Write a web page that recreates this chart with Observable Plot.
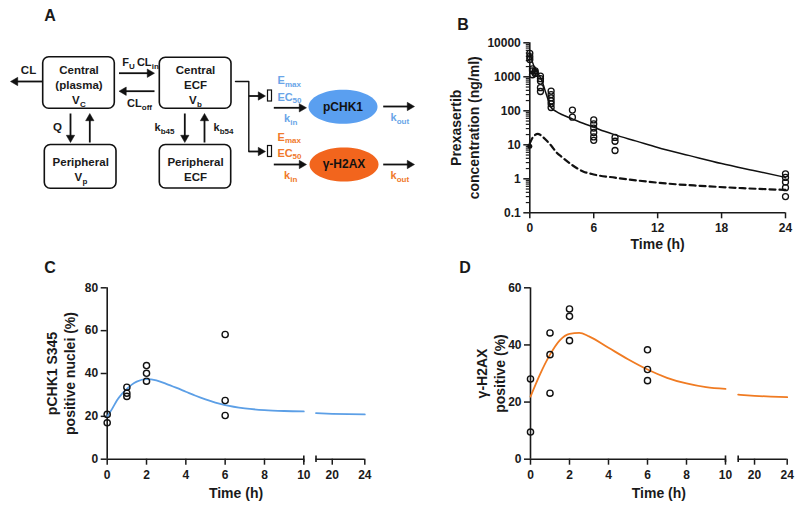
<!DOCTYPE html>
<html><head><meta charset="utf-8">
<script src="https://cdn.jsdelivr.net/npm/d3@7"></script>
<script src="https://cdn.jsdelivr.net/npm/@observablehq/plot@0.6"></script>
<style>
body{margin:0;background:#fff}
#wrap{position:relative;width:800px;height:512px;overflow:hidden;background:#fff;font-family:'Liberation Sans',Arial,sans-serif;color:#1a1a1a}
#wrap svg{position:absolute}
.lbl{position:absolute;font-weight:bold;font-size:16px;line-height:1;transform:translate(-50%,-50%)}
</style></head>
<body><div id="wrap"></div>
<script>
// ---------- Panel B data (Prexasertib PK) ----------
const pkObsTime = [0,0,0, 0.25,0.25,0.25, 0.5,0.5,0.5, 1,1,1,1,1, 2,2,2,2,2,2, 4,4, 6,6,6,6,6,6, 8,8,8, 24,24,24,24,24];
const pkObsConc = [4900,3900,3200, 1700,1500,1150, 1500,1350,1250, 1050,880,750,480,370, 380,300,240,195,160,125, 105,65, 54,41,31,23,17,13.5, 16.5,12.7,6.8, 1.4,1.1,0.8,0.55,0.3];
const plasmaModelTime = [0,0.25,0.5,0.75,1,1.25,1.5,1.75,2,2.5,3,4,5,6,7,8,10,12,15,18,21,24];
const plasmaModelConc = [5000,2700,1700,1250,950,600,340,200,125,95,78,58,43,33,25,19.6,12.8,8.3,4.8,2.8,1.75,1.1];
const brainModelTime = [0,0.25,0.5,0.75,1,1.5,2,2.5,3,4,5,6,8,10,13,16,20,24];
const brainModelConc = [11,16,19.5,21,19.5,14,9.5,6,4.4,2.5,1.65,1.34,1.08,0.9,0.72,0.62,0.53,0.47];
const brainMarkTime = [0];
const brainMarkConc = [9];
const yTicksB = [0.1,1,10,100,1000,10000];
const yTickLabelsB = ["0.1","1","10","100","1000","10000"];
const xTicksB = [0,6,12,18,24];

// ---------- Panel C data (pCHK1) ----------
const chkObsTime = [0,0, 1,1,1, 2,2,2, 6,6,6];
const chkObsVal  = [20.9,17.0, 33.6,30.8,29.3, 43.7,40.1,36.4, 58.2,27.4,20.4];
const chkModelTime = [0,0.25,0.5,0.75,1,1.25,1.5,2,2.5,3,3.5,4,4.5,5,5.5,6,7,8,9,10, 18,20,22,24];
const chkModelVal  = [19.9,23.5,27.5,30.5,32.8,34.8,36.2,37.4,36.8,35.2,33.4,31.5,29.6,27.9,26.4,25.2,23.7,22.9,22.5,22.3, 21.5,21.2,21.0,20.9];
const chkModelSeg  = ["a","a","a","a","a","a","a","a","a","a","a","a","a","a","a","a","a","a","a","a", "b","b","b","b"];
const yTicksC = [0,20,40,60,80];

// ---------- Panel D data (gamma-H2AX) ----------
const h2axObsTime = [0,0, 1,1,1, 2,2,2, 6,6,6];
const h2axObsVal  = [28.1,9.5, 44.2,36.6,23.1, 52.6,50.0,41.5, 38.3,31.4,27.5];
const h2axModelTime = [0,0.5,1,1.5,2,2.5,3,4,5,6,7,8,9,10, 18,20,22,24];
const h2axModelVal  = [21.9,29.9,36.6,41.6,43.9,44.2,43.0,39.0,35.0,31.4,28.5,26.5,25.2,24.6, 22.6,22.2,21.9,21.7];
const h2axModelSeg  = ["a","a","a","a","a","a","a","a","a","a","a","a","a","a", "b","b","b","b"];
const yTicksD = [0,20,40,60];
const xTicksCD = [0,2,4,6,8,10,20,24];

const BLUE_TXT = "#6aa5e8", BLUE_FILL = "#5a9ff0", BLUE_LINE = "#5c9fe6";
const ORG_TXT = "#f07a2c", ORG_FILL = "#f2651d", ORG_LINE = "#f07b22";
const FONT = "'Liberation Sans', Arial, sans-serif";
const baseStyle = {fontFamily: FONT, fontSize: "12px", fontWeight: "bold", background: "transparent", overflow: "visible", color: "#1a1a1a"};

const wrap = document.getElementById("wrap");
function place(el, left, top) { el.style.left = left + "px"; el.style.top = top + "px"; wrap.appendChild(el); }

// ---------- Panel A : model diagram ----------
const boxes = [
  {x1:42.7, x2:114.3, y1:56.7, y2:108.3},
  {x1:159.3, x2:231, y1:57.3, y2:108.3},
  {x1:44.3, x2:116, y1:144.5, y2:188.3},
  {x1:159.3, x2:230.7, y1:144.5, y2:188}
];
const smallRects = [{x1:267.5,x2:271.5,y1:90,y2:101},{x1:267.5,x2:271.5,y1:145.5,y2:156.5}];
const arrows = [
  {x1:42.7,y1:81,x2:10,y2:81},
  {x1:118.5,y1:72.7,x2:154,y2:72.7},
  {x1:154,y1:90.7,x2:118.5,y2:90.7},
  {x1:70,y1:113,x2:70,y2:142},
  {x1:89.3,y1:142,x2:89.3,y2:113},
  {x1:184.3,y1:113,x2:184.3,y2:142},
  {x1:204,y1:142,x2:204,y2:113},
  {x1:248.3,y1:95.5,x2:265,y2:95.5},
  {x1:248.3,y1:151,x2:265,y2:151},
  {x1:273.3,y1:107.3,x2:306,y2:107.3},
  {x1:273.3,y1:164,x2:306,y2:164},
  {x1:382.7,y1:106,x2:414,y2:106},
  {x1:382.7,y1:164,x2:414,y2:164}
];
const connector = [{x:235,y:81},{x:248.3,y:81},{x:248.3,y:151}];
const ellipses = [{x:342.5,y:106.3,fill:BLUE_FILL,label:"pCHK1"},{x:343.5,y:164,fill:ORG_FILL,label:"γ-H2AX"}];
const centeredText = [
  [78.5,70,"Central"],[78.5,85,"(plasma)"],
  [195,70,"Central"],[195,85,"ECF"],
  [80.2,162,"Peripheral"],
  [195,162,"Peripheral"],[195,177,"ECF"],
  [28,70,"CL"],[57,127,"Q"]
].map(([x,y,t]) => ({x,y,t}));
const runText = [
  // [x, y, text, size, color]  (left-anchored pieces, subscripts smaller and lower)
  [71.5,100,"V",11.5,"#1a1a1a"],[79.5,103.5,"C",8,"#1a1a1a"],
  [188.5,100,"V",11.5,"#1a1a1a"],[196.5,103.5,"b",8,"#1a1a1a"],
  [74,177,"V",11.5,"#1a1a1a"],[82,180.5,"p",8,"#1a1a1a"],
  [121.7,62,"F",11,"#1a1a1a"],[128.6,65.5,"U",8,"#1a1a1a"],
  [136.4,62,"CL",11,"#1a1a1a"],[151.3,65.5,"in",8,"#1a1a1a"],
  [126.5,103,"CL",11,"#1a1a1a"],[141.3,106.5,"off",8,"#1a1a1a"],
  [154,127,"k",11,"#1a1a1a"],[160.2,130.5,"b45",8,"#1a1a1a"],
  [213,127,"k",11,"#1a1a1a"],[219.2,130.5,"b54",8,"#1a1a1a"],
  [277,80,"E",11,BLUE_TXT],[284.4,83.5,"max",8,BLUE_TXT],
  [277,96.5,"EC",11,BLUE_TXT],[292,100,"50",8,BLUE_TXT],
  [283.5,118,"k",11,BLUE_TXT],[289.7,121.5,"in",8,BLUE_TXT],
  [390,117,"k",11,BLUE_TXT],[396.2,120.5,"out",8,BLUE_TXT],
  [277,136.5,"E",11,ORG_TXT],[284.4,140,"max",8,ORG_TXT],
  [277,152.5,"EC",11,ORG_TXT],[292,156,"50",8,ORG_TXT],
  [283.5,175,"k",11,ORG_TXT],[289.7,178.5,"in",8,ORG_TXT],
  [390,175,"k",11,ORG_TXT],[396.2,178.5,"out",8,ORG_TXT]
].map(([x,y,t,s,c]) => ({x,y,t,s,c}));

// arrow geometry: head drawn as filled triangle symbol
const HEAD_R = 3.1;
const headHalf = Math.sqrt(Math.PI*HEAD_R*HEAD_R/(Math.sqrt(3)*3));
const arrowRows = arrows.map(a => {
  const dx = a.x2-a.x1, dy = a.y2-a.y1, L = Math.hypot(dx,dy), ux = dx/L, uy = dy/L;
  const hx = a.x2 - ux*2*headHalf, hy = a.y2 - uy*2*headHalf;
  return {...a, hx, hy, rot: Math.atan2(dy,dx)*180/Math.PI + 90};
});
const ellipseSymbol = {draw(ctx, size) {
  const r = Math.sqrt(size/Math.PI), rx = r*2.03, ry = r, k = 0.5523;
  ctx.moveTo(rx,0);
  ctx.bezierCurveTo(rx,ry*k,rx*k,ry,0,ry);
  ctx.bezierCurveTo(-rx*k,ry,-rx,ry*k,-rx,0);
  ctx.bezierCurveTo(-rx,-ry*k,-rx*k,-ry,0,-ry);
  ctx.bezierCurveTo(rx*k,-ry,rx,-ry*k,rx,0);
  ctx.closePath();
}};

const pA = Plot.plot({
  width: 420, height: 250, margin: 0,
  x: {domain:[0,420], range:[0,420], axis:null},
  y: {domain:[0,250], range:[0,250], axis:null},
  style: baseStyle,
  marks: [
    Plot.line(connector, {x:"x", y:"y", stroke:"#111", strokeWidth:1.4}),
    Plot.link(arrowRows, {x1:"x1", y1:"y1", x2:"hx", y2:"hy", stroke:"#111", strokeWidth:1.8}),
    Plot.dot(arrowRows, {x:"hx", y:"hy", r:HEAD_R, symbol:"triangle", rotate:"rot", fill:"#111", stroke:"#111", strokeWidth:0.5}),
    Plot.rect(boxes, {x1:"x1", x2:"x2", y1:"y1", y2:"y2", rx:6, fill:"white", stroke:"#111", strokeWidth:1.6}),
    Plot.rect(smallRects, {x1:"x1", x2:"x2", y1:"y1", y2:"y2", fill:"white", stroke:"#111", strokeWidth:1.2}),
    Plot.dot(ellipses, {x:"x", y:"y", r:17, symbol:ellipseSymbol, fill:"fill", stroke:null}),
    Plot.text(ellipses, {x:"x", y:"y", text:"label", fontSize:12, fill:"#111", fontWeight:"bold"}),
    Plot.text(centeredText, {x:"x", y:"y", text:"t", fontSize:11.5, fill:"#1a1a1a", textAnchor:"middle", fontWeight:"bold"}),
    Plot.text(runText, {x:"x", y:"y", text:"t", fontSize:"s", fill:"c", textAnchor:"start", fontWeight:"bold"})
  ]
});
place(pA, 0, 0);

// ---------- Panel B ----------
const pkObs = pkObsTime.map((t,i) => ({t, c: pkObsConc[i]}));
const plasmaModel = plasmaModelTime.map((t,i) => ({t, c: plasmaModelConc[i]}));
const brainModel = brainModelTime.map((t,i) => ({t, c: brainModelConc[i]}));
const brainMark = brainMarkTime.map((t,i) => ({t, c: brainMarkConc[i]}));
const minorTicksB = yTicksB.slice(0,-1).flatMap(m => [2,3,4,5,6,7,8,9].map(k => m*k));

const pB = Plot.plot({
  width: 380, height: 260,
  marginLeft: 109.3, marginRight: 15, marginTop: 42.3, marginBottom: 47.7,
  x: {domain:[0,24]},
  y: {type:"log", domain:[0.1,10000]},
  style: baseStyle,
  marks: [
    Plot.axisY({ticks: minorTicksB, tickSize: 3.5, tickFormat: () => "", strokeWidth: 1.2, label: null}),
    Plot.axisY({ticks: yTicksB, tickSize: 6, tickPadding: 3, strokeWidth: 1.5, label: null,
      tickFormat: d => yTickLabelsB[yTicksB.indexOf(d)]}),
    Plot.axisX({ticks: xTicksB, tickSize: 6, tickPadding: 5, strokeWidth: 1.5, label: null}),
    Plot.ruleX([0], {strokeWidth: 1.6}),
    Plot.ruleY([0.1], {strokeWidth: 1.6}),
    Plot.line(brainModel, {x:"t", y:"c", stroke:"#111", strokeWidth:2.2, strokeDasharray:"6,4", curve:"monotone-x"}),
    Plot.line(plasmaModel, {x:"t", y:"c", stroke:"#111", strokeWidth:1.5, curve:"monotone-x"}),
    Plot.dot(brainMark, {x:"t", y:"c", r:2.5, fill:"#111"}),
    Plot.dot(pkObs, {x:"t", y:"c", r:3, stroke:"#111", strokeWidth:1.3, fill:"none"}),
    Plot.text(["Prexasertib\nconcentration (ng/ml)"], {frameAnchor:"left", dx:-65.3, rotate:-90, textAnchor:"middle", fontSize:14, lineHeight:1.3, fontWeight:"bold"}),
    Plot.text(["Time (h)"], {frameAnchor:"bottom", dy:36, fontSize:14, fontWeight:"bold"})
  ]
});
place(pB, 420, 0);

// ---------- Panels C and D ----------
function brokenPanel({obs, model, yMax, yTicks, xRange, ylabel, ylabelDx, lineColor}) {
  const breakH = yMax * 0.019;
  return Plot.plot({
    width: 400, height: 252,
    marginLeft: xRange[0], marginRight: 400 - xRange[3], marginTop: 27.3, marginBottom: 53.3,
    x: {type: "linear", domain:[0,10,18,24], range: xRange},
    y: {type: "linear", domain:[0,yMax]},
    style: baseStyle,
    marks: [
      Plot.axisY({ticks: yTicks, tickSize: 6, tickPadding: 3, strokeWidth: 1.5, label: null}),
      Plot.axisX({ticks: xTicksCD, tickSize: 6, tickPadding: 5, strokeWidth: 1.5, label: null}),
      Plot.ruleX([0], {y1: 0, y2: yMax, strokeWidth: 1.6}),
      Plot.ruleY([{x1:0,x2:10},{x1:18,x2:24}], {y: 0, x1:"x1", x2:"x2", strokeWidth: 1.6}),
      Plot.ruleX([10,18], {y1: -breakH, y2: breakH, strokeWidth: 1.6}),
      Plot.line(model, {x:"t", y:"v", z:"seg", stroke: lineColor, strokeWidth: 1.8, curve:"monotone-x"}),
      Plot.dot(obs, {x:"t", y:"v", r:3.1, stroke:"#111", strokeWidth:1.4, fill:"none"}),
      Plot.text([ylabel], {frameAnchor:"left", dx: ylabelDx, rotate:-90, textAnchor:"middle", fontSize:14, lineHeight:1.25, fontWeight:"bold"}),
      Plot.text(["Time (h)"], {frameAnchor:"bottom", dy:38.5, fontSize:14, fontWeight:"bold"})
    ]
  });
}
const chkObs = chkObsTime.map((t,i) => ({t, v: chkObsVal[i]}));
const chkModel = chkModelTime.map((t,i) => ({t, v: chkModelVal[i], seg: chkModelSeg[i]}));
const h2axObs = h2axObsTime.map((t,i) => ({t, v: h2axObsVal[i]}));
const h2axModel = h2axModelTime.map((t,i) => ({t, v: h2axModelVal[i], seg: h2axModelSeg[i]}));

const pC = brokenPanel({obs: chkObs, model: chkModel, yMax: 80, yTicks: yTicksC,
  xRange: [106.7,303.3,315.5,364.3], ylabel: "pCHK1 S345\npositive nuclei (%)", ylabelDx: -46.7, lineColor: BLUE_LINE});
place(pC, 0, 260);

const pD = brokenPanel({obs: h2axObs, model: h2axModel, yMax: 60, yTicks: yTicksD,
  xRange: [130,325,337.7,386.7], ylabel: "γ-H2AX\npositive (%)", ylabelDx: -40, lineColor: ORG_LINE});
place(pD, 400, 260);

// panel letters
[["A",50,16],["B",463,25],["C",50,268],["D",465,268]].forEach(([t,x,y]) => {
  const d = document.createElement("div"); d.className = "lbl"; d.textContent = t;
  d.style.left = x + "px"; d.style.top = y + "px"; wrap.appendChild(d);
});
</script>
</body></html>
